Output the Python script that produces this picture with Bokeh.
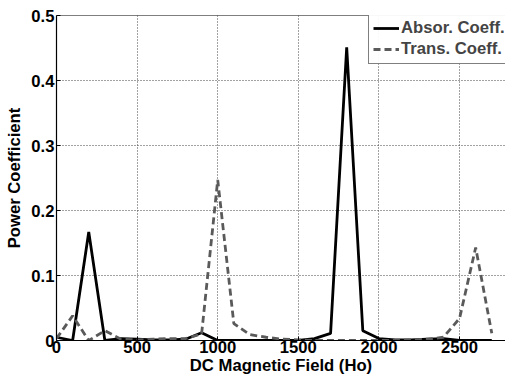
from bokeh.plotting import figure
from bokeh.models import Range1d, Span, Legend, LegendItem, FixedTicker
from bokeh.embed import file_html
from bokeh.resources import INLINE

field = [0, 100, 200, 300, 400, 500, 600, 700, 800, 900, 1000, 1100, 1200, 1300,
         1400, 1500, 1600, 1700, 1800, 1900, 2000, 2100, 2200, 2300, 2400, 2500, 2600, 2700]
absor = [0.005, 0.0, 0.167, 0.0, 0.003, 0.002, 0.001, 0.001, 0.002, 0.012, 0.0, 0.0, 0.0, 0.0,
         0.0, 0.0, 0.003, 0.011, 0.451, 0.015, 0.003, 0.001, 0.001, 0.002, 0.003, 0.0, 0.0, 0.0]
trans = [0.003, 0.038, 0.0, 0.015, 0.002, 0.001, 0.002, 0.003, 0.003, 0.01, 0.247, 0.026, 0.009, 0.005,
         0.002, 0.001, 0.0, 0.0, 0.0, 0.0, 0.0, 0.0, 0.001, 0.002, 0.005, 0.034, 0.143, 0.011]
x_ticks = [0, 500, 1000, 1500, 2000, 2500]
y_ticks = [0, 0.1, 0.2, 0.3, 0.4, 0.5]

FONT = "Liberation Sans"

p = figure(width=505, height=379, output_backend="svg", toolbar_location=None,
           x_range=Range1d(0, 2785), y_range=Range1d(0, 0.5),
           min_border_left=56, min_border_right=0, min_border_top=15, min_border_bottom=39)
p.outline_line_color = None
p.background_fill_color = "white"
p.border_fill_color = "white"

l1 = p.line(field, absor, line_color="black", line_width=2.8)
l2 = p.line(field, trans, line_color="#5a5a5a", line_width=2.8, line_dash="7 4")

p.add_layout(Span(location=0.5, dimension="width", line_color="black", line_width=1.2))

for ax in (p.xaxis[0], p.yaxis[0]):
    ax.major_label_text_font = FONT
    ax.major_label_text_font_style = "bold"
    ax.major_label_text_font_size = "12.5pt"
    ax.major_label_text_color = "black"
    ax.axis_label_text_font = FONT
    ax.axis_label_text_font_style = "bold"
    ax.axis_label_text_font_size = "12.5pt"
    ax.axis_label_text_color = "black"
    ax.axis_line_color = "black"
    ax.axis_line_width = 1.2
    ax.major_tick_in = 4
    ax.major_tick_out = 0
    ax.minor_tick_line_color = None

p.xaxis.ticker = FixedTicker(ticks=x_ticks)
p.yaxis.ticker = FixedTicker(ticks=y_ticks)
p.xaxis.axis_label = "DC Magnetic Field (Ho)"
p.yaxis.axis_label = "Power Coefficient"
p.xaxis.major_label_standoff = 0
p.yaxis.major_label_standoff = 2
p.xaxis.axis_label_standoff = 0
p.yaxis.axis_label_standoff = 4
p.yaxis.major_label_overrides = {0: "0", 0.1: "0.1", 0.2: "0.2", 0.3: "0.3", 0.4: "0.4", 0.5: "0.5"}

p.xgrid.grid_line_color = "#444444"
p.xgrid.grid_line_dash = "1 2"
p.xgrid.grid_line_width = 1
p.ygrid.grid_line_color = "#444444"
p.ygrid.grid_line_dash = "1 2"
p.ygrid.grid_line_width = 1

legend = Legend(items=[LegendItem(label="Absor. Coeff.", renderers=[l1]),
                       LegendItem(label="Trans. Coeff.", renderers=[l2])],
                location=(312, 276))
legend.label_text_font = FONT
legend.label_text_font_style = "bold"
legend.label_text_font_size = "12.5pt"
legend.border_line_color = "black"
legend.border_line_width = 1.2
legend.glyph_width = 26
legend.label_standoff = 2
legend.spacing = 1
legend.padding = 4
legend.margin = 0
legend.label_height = 18
legend.glyph_height = 18
p.add_layout(legend)

open("out.html", "w").write(file_html(p, INLINE))
